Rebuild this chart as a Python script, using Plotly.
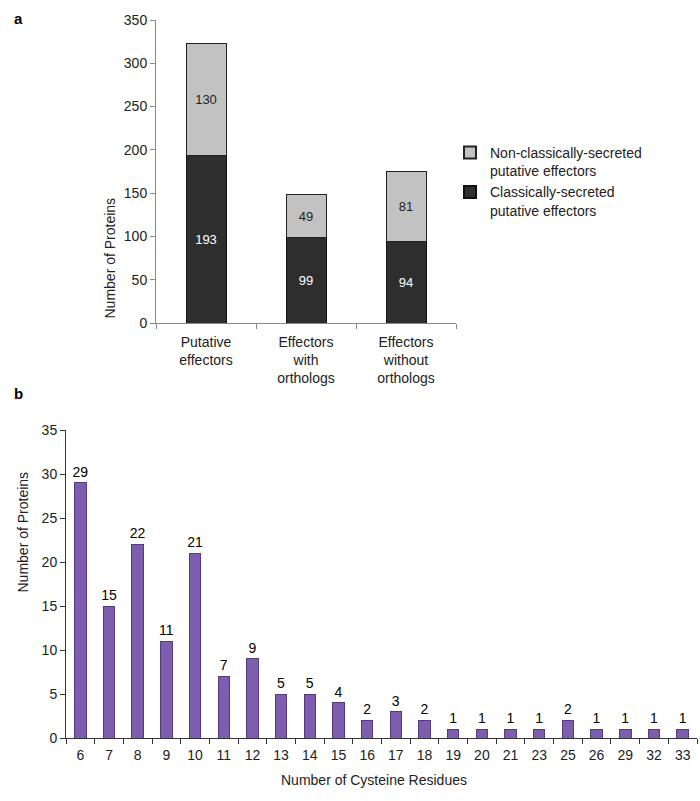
import plotly.graph_objects as go

# Panel a data
cats_a = ["Putative<br>effectors", "Effectors<br>with<br>orthologs", "Effectors<br>without<br>orthologs"]
classical = [193, 99, 94]
nonclassical = [130, 49, 81]
ticks_a = [0, 50, 100, 150, 200, 250, 300, 350]

# Panel b data
cys_residues = ["6", "7", "8", "9", "10", "11", "12", "13", "14", "15", "16", "17", "18",
                "19", "20", "21", "23", "25", "26", "29", "32", "33"]
cys_counts = [29, 15, 22, 11, 21, 7, 9, 5, 5, 4, 2, 3, 2, 1, 1, 1, 1, 2, 1, 1, 1, 1]
ticks_b = [0, 5, 10, 15, 20, 25, 30, 35]

W, H = 700, 801
def px_x(p): return p / W
def px_y(p): return 1 - p / H

FONT = "Liberation Sans, Arial, sans-serif"
AX = "#8a8a8a"

fig = go.Figure()

fig.add_trace(go.Bar(
    x=cats_a, y=classical, name="Classically-secreted<br>putative effectors",
    marker=dict(color="#2e2e2e", line=dict(color="#111111", width=1)),
    text=[str(v) for v in classical], textposition="inside", insidetextanchor="middle",
    textfont=dict(color="white", size=13, family=FONT), constraintext="none",
    xaxis="x", yaxis="y",
))
fig.add_trace(go.Bar(
    x=cats_a, y=nonclassical, name="Non-classically-secreted<br>putative effectors",
    marker=dict(color="#c2c2c2", line=dict(color="#222222", width=1)),
    text=[str(v) for v in nonclassical], textposition="inside", insidetextanchor="middle",
    textfont=dict(color="#222222", size=13, family=FONT), constraintext="none",
    xaxis="x", yaxis="y",
))

fig.add_trace(go.Bar(
    x=cys_residues, y=cys_counts, showlegend=False,
    marker=dict(color="#7d5dae", line=dict(color="#56397f", width=1)),
    text=[str(v) for v in cys_counts], textposition="outside", constraintext="none",
    textfont=dict(color="black", size=14, family=FONT),
    cliponaxis=False, xaxis="x2", yaxis="y2",
))

fig.update_layout(
    width=W, height=H, margin=dict(l=0, r=0, t=0, b=0),
    paper_bgcolor="white", plot_bgcolor="white",
    barmode="stack", bargap=0.6,
    font=dict(family=FONT, size=14, color="#222222"),
    showlegend=True,
    legend=dict(x=px_x(450), y=px_y(137), xanchor="left", yanchor="top",
                traceorder="reversed", valign="top",
                font=dict(size=14, family=FONT), itemsizing="constant",
                tracegroupgap=4, bgcolor="rgba(0,0,0,0)"),
    xaxis=dict(domain=[px_x(156), px_x(456)], anchor="y", showline=True, linecolor=AX,
               ticks="outside", tickson="boundaries", ticklen=5, tickcolor=AX,
               ticklabelstandoff=6,
               tickfont=dict(size=14), showgrid=False, automargin=False),
    yaxis=dict(domain=[px_y(323), px_y(20)], anchor="x", range=[0, 350], tickvals=ticks_a,
               showline=True, linecolor=AX, ticks="outside", ticklen=5, tickcolor=AX,
               showgrid=False, zeroline=False, tickfont=dict(size=14), automargin=False),
    xaxis2=dict(domain=[px_x(66), px_x(697)], anchor="y2", showline=True, linecolor="#333333",
                ticks="outside", tickson="boundaries", ticklen=5, tickcolor="#333333",
                ticklabelstandoff=4,
                tickfont=dict(size=14), showgrid=False, type="category", automargin=False),
    yaxis2=dict(domain=[px_y(738), px_y(430)], anchor="x2", range=[0, 35], tickvals=ticks_b,
                showline=True, linecolor="#333333", ticks="outside", ticklen=5, tickcolor="#333333",
                showgrid=False, zeroline=False, tickfont=dict(size=14), automargin=False),
    annotations=[
        dict(text="<b>a</b>", x=px_x(12), y=px_y(8), xref="paper", yref="paper",
             showarrow=False, font=dict(size=15, color="black")),
        dict(text="<b>b</b>", x=px_x(12), y=px_y(393), xref="paper", yref="paper",
             showarrow=False, font=dict(size=15, color="black")),
        dict(text="Number of Proteins", x=px_x(100), y=px_y(196), xref="paper", yref="paper",
             showarrow=False, textangle=-90, font=dict(size=14, color="#222222")),
        dict(text="Number of Proteins", x=px_x(12), y=px_y(595), xref="paper", yref="paper",
             showarrow=False, textangle=-90, font=dict(size=14, color="#222222")),
        dict(text="Number of Cysteine Residues", x=px_x(374), y=px_y(790), xref="paper", yref="paper",
             showarrow=False, font=dict(size=14, color="#222222")),
    ],
)

fig.write_html("out.html", config={"displayModeBar": False},
               post_script="document.body.style.margin='0';document.body.style.padding='0';")
